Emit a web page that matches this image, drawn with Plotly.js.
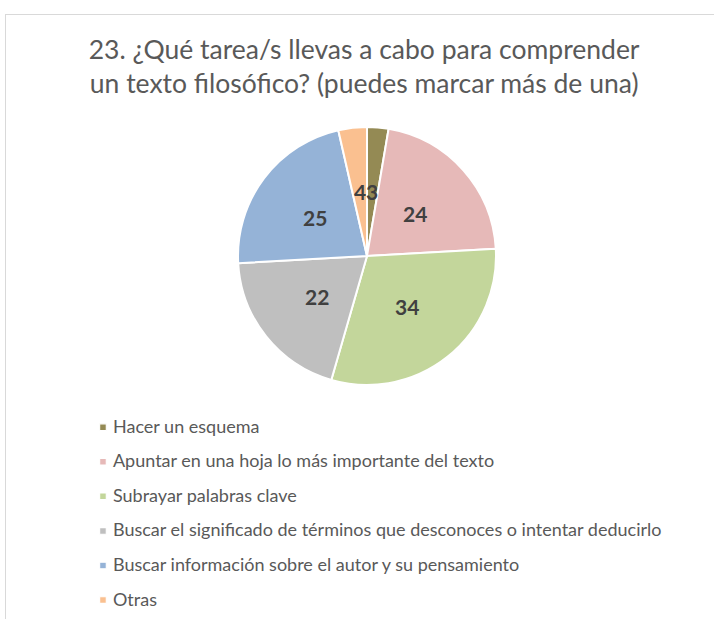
<!DOCTYPE html>
<html>
<head>
<meta charset="utf-8">
<script src="https://cdn.plot.ly/plotly-3.0.1.min.js"></script>
<style>
  html, body { margin: 0; padding: 0; background: #fff; overflow: hidden; }
  #chart { position: absolute; left: 0; top: 0; width: 714px; height: 619px; }
  #frame { position: absolute; left: 5px; top: 14px; width: 740px; height: 640px; border: 1px solid #d9d9d9; pointer-events: none; }
</style>
</head>
<body>
<div id="chart"></div>
<div id="frame"></div>
<script>
const titleText = '23. ¿Qué tarea/s llevas a cabo para comprender<br>un texto filosófico? (puedes marcar más de una)';
const categories = [
  'Hacer un esquema',
  'Apuntar en una hoja lo más importante del texto',
  'Subrayar palabras clave',
  'Buscar el significado de términos que desconoces o intentar deducirlo',
  'Buscar información sobre el autor y su pensamiento',
  'Otras'
];
const values = [3, 24, 34, 22, 25, 4];
const colors = ['#948A54', '#E6B9B8', '#C3D69B', '#BFBFBF', '#95B3D7', '#FAC090'];

// pie geometry (paper domain)
const W = 714, H = 619;
const domX = [0.3333, 0.6947];
const domY = [0.378, 0.7948];

// data labels along each slice bisector at half radius (Excel-style "center" labels)
const total = values.reduce((a, b) => a + b, 0);
const cx = (domX[0] + domX[1]) / 2 * W;
const cy = (domY[0] + domY[1]) / 2 * H;
const R = Math.min((domX[1] - domX[0]) * W, (domY[1] - domY[0]) * H) / 2;
const annotations = [];
let cum = 0;
values.forEach((v, i) => {
  const mid = (cum + v / 2) / total * 2 * Math.PI;
  cum += v;
  const px = cx + 0.5 * R * Math.sin(mid);
  const py = cy + 0.5 * R * Math.cos(mid);
  annotations.push({
    x: px / W, y: py / H, xref: 'paper', yref: 'paper',
    xanchor: 'center', yanchor: 'middle',
    text: String(v), showarrow: false,
    font: { family: 'Lato, sans-serif', size: 21, weight: 'bold', color: '#404040' }
  });
});

const legendLabels = categories.map(c => '<span style="font-size:18px">' + c + '</span>');

const trace = {
  type: 'pie',
  labels: legendLabels,
  values: values,
  sort: false,
  direction: 'clockwise',
  rotation: 0,
  domain: { x: domX, y: domY },
  marker: { colors: colors, line: { color: '#ffffff', width: 2 } },
  textinfo: 'none',
  hoverinfo: 'label+value'
};

const layout = {
  width: W, height: H,
  margin: { l: 0, r: 0, t: 0, b: 0 },
  paper_bgcolor: '#ffffff',
  font: { family: 'Lato, sans-serif', color: '#595959' },
  title: {
    text: titleText,
    x: 0.51, xanchor: 'center',
    y: 0.905, yanchor: 'top',
    font: { family: 'Lato, sans-serif', size: 26.5, color: '#595959' }
  },
  showlegend: true,
  legend: {
    orientation: 'v',
    x: 0.1022, xanchor: 'left',
    y: 0.3524, yanchor: 'top',
    font: { family: 'Lato, sans-serif', size: 24.3, color: '#595959' },
    bgcolor: 'rgba(0,0,0,0)'
  },
  annotations: annotations
};

Plotly.newPlot('chart', [trace], layout, { staticPlot: true }).then(function (gd) {
  // smaller legend swatches, aligned with text
  document.querySelectorAll('#chart .legendpoints path').forEach(function (p) {
    p.setAttribute('transform', 'translate(30,4) scale(0.55)');
  });
});
</script>
</body>
</html>
